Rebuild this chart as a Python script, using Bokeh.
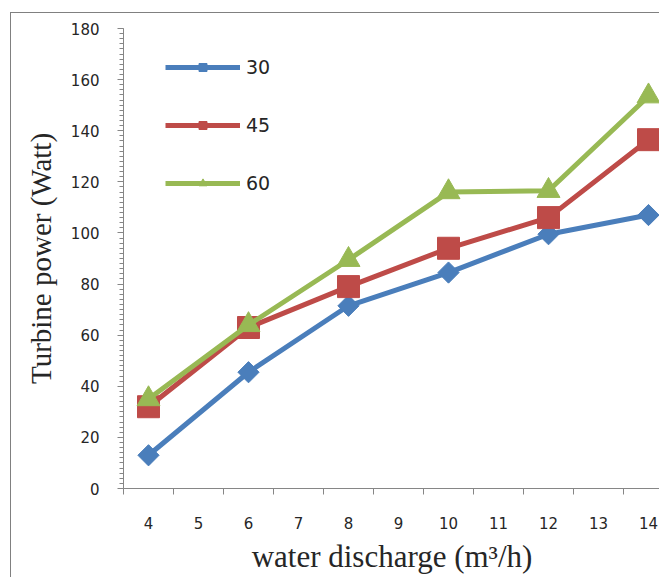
import numpy as np
from bokeh.plotting import figure
from bokeh.models import (FixedTicker, SingleIntervalTicker, Legend, LegendItem, Range1d)
from bokeh.embed import file_html
from bokeh.resources import INLINE

# ---- data ----
x_tick_values = [4, 5, 6, 7, 8, 9, 10, 11, 12, 13, 14]
discharge = [4, 6, 8, 10, 12, 14]
power_30 = [13, 45.5, 71.5, 84.5, 99.5, 107]
power_45 = [32, 63, 79, 94, 106, 136.5]
power_60 = [35, 64, 89.5, 116, 116.5, 153.5]
series_labels = ["30", "45", "60"]
x_title = "water discharge (m³/h)"
y_title = "Turbine power (Watt)"

BLUE = "#4A7EBB"
RED = "#BE4B48"
GREEN = "#98B954"
TXT = "#262626"
AX = "#868686"

p = figure(width=649, height=565, x_range=Range1d(3.5, 14.24), y_range=Range1d(0, 180),
           output_backend="svg", toolbar_location=None,
           min_border_left=112, min_border_right=0, min_border_top=15, min_border_bottom=90)
p.styles = {"border-left": "1px solid #808080", "border-top": "1px solid #808080",
            "margin-left": "10px", "margin-top": "12px"}
p.outline_line_color = None
p.xgrid.visible = False
p.ygrid.visible = False
p.background_fill_color = "white"
p.border_fill_color = "white"

# x axis: labels at integers, tick marks between them
minor = [v - 0.5 for v in x_tick_values] + [x_tick_values[-1] + 0.5]
p.xaxis.ticker = FixedTicker(ticks=x_tick_values, minor_ticks=minor)
p.xaxis.major_tick_out = 0
p.xaxis.major_tick_in = 0
p.xaxis.minor_tick_out = 6
p.xaxis.minor_tick_in = 0
p.xaxis.major_label_standoff = 22
p.xaxis.axis_label = x_title
p.xaxis.axis_label_standoff = 7

# y axis
p.yaxis.ticker = SingleIntervalTicker(interval=20, num_minor_ticks=10)
p.yaxis.major_tick_out = 6
p.yaxis.major_tick_in = 0
p.yaxis.minor_tick_out = 4
p.yaxis.minor_tick_in = 0
p.yaxis.major_label_standoff = 18
p.yaxis.axis_label = y_title
p.yaxis.axis_label_standoff = 11

for ax in (p.xaxis, p.yaxis):
    ax.axis_line_color = AX
    ax.major_tick_line_color = AX
    ax.minor_tick_line_color = AX
    ax.major_label_text_font = "DejaVu Sans"
    ax.major_label_text_font_size = "15px"
    ax.major_label_text_color = TXT
    ax.axis_label_text_font = "Liberation Serif"
    ax.axis_label_text_font_style = "normal"
    ax.axis_label_text_color = TXT
p.xaxis.axis_label_text_font_size = "31px"
p.yaxis.axis_label_text_font_size = "29px"

items = []
specs = [(power_30, BLUE, "square", 15, np.pi / 4),
         (power_45, RED, "square", 22, 0),
         (power_60, GREEN, "triangle", 23, 0)]
for (vals, col, mk, sz, ang), lab in zip(specs, series_labels):
    ln = p.line(discharge, vals, line_color=col, line_width=5)
    sc = p.scatter(discharge, vals, marker=mk, size=sz, angle=ang,
                   fill_color=col, line_color=col)
    items.append(LegendItem(label=lab, renderers=[ln, sc]))

legend = Legend(items=items, location=(42, 294), glyph_width=75, glyph_height=20,
                spacing=36, padding=0, margin=0, label_standoff=6,
                border_line_color=None, background_fill_alpha=0,
                label_text_font="DejaVu Sans", label_text_font_size="19px",
                label_text_color=TXT)
p.add_layout(legend)

open("out.html", "w").write(file_html(p, INLINE))
